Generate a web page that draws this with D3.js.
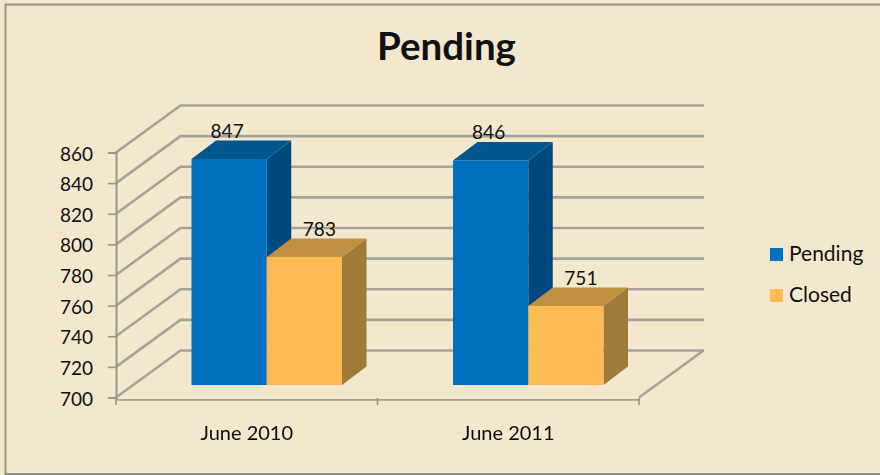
<!DOCTYPE html>
<html><head><meta charset="utf-8">
<script src="https://cdn.jsdelivr.net/npm/d3@7"></script>
<style>html,body{margin:0;padding:0;background:#f3e8cd}svg{display:block}text{font-family:Lato,"Noto Sans",sans-serif;fill:#111}</style>
</head><body><svg id="c" width="880" height="475"></svg>
<script>
const categories = ["June 2010", "June 2011"];
const seriesNames = ["Pending", "Closed"];
const pendingValues = [847, 846];
const closedValues = [783, 751];
const yTicks = [700, 720, 740, 760, 780, 800, 820, 840, 860];
const titleText = "Pending";

const frontColors = {Pending:"#0070be", Closed:"#feba55"};
const topColors   = {Pending:"#00568f", Closed:"#bf9140"};
const sideColors  = {Pending:"#004a7f", Closed:"#a07a38"};
const labelDx = {Pending:-2, Closed:15};

const svg = d3.select("#c");
const defs = svg.append("defs");
const addBlur = (id,sd)=>defs.append("filter").attr("id",id).attr("filterUnits","userSpaceOnUse")
  .attr("x",0).attr("y",0).attr("width",880).attr("height",475)
  .append("feGaussianBlur").attr("stdDeviation",sd);
addBlur("soft",0.7);
addBlur("edge",0.4);
const g = svg.append("g");

g.append("rect").attr("width",880).attr("height",475).attr("fill","#f3e8cd");
g.append("path").attr("fill","none").attr("stroke","#8f8f8b").attr("stroke-width",1.8)
 .attr("d",d3.line()([[880,4.5],[5.5,4.5],[5.5,474],[880,474]]));

const y = d3.scaleLinear().domain([700,860]).range([397.5,152.5]);
const x = d3.scaleBand().domain(categories).range([116,639]);
const wallDx = 64.5, wallDy = -47;
const floorDx = 20, floorDy = -12.5;
const barDx = 24.5, barDy = -18.5;
const gridColor = "#a5a29a";

const grid = g.append("g").attr("filter","url(#soft)").attr("fill","none").attr("stroke",gridColor).attr("stroke-width",2.6);
yTicks.forEach(t=>{
  grid.append("path").attr("d",d3.line()([[116,y(t)],[116+wallDx,y(t)+wallDy],[704,y(t)+wallDy]]));
});
grid.append("path").attr("d",d3.line()([[639,y(700)],[639+wallDx,y(700)+wallDy]]));

const axisLeft = d3.axisLeft(y).tickValues(yTicks).tickSize(8).tickPadding(15).tickFormat(d3.format("d"));
const ay = g.append("g").attr("transform","translate(116,0)").call(axisLeft);
ay.select(".domain").attr("stroke","#97958f").attr("stroke-width",2);
ay.selectAll(".tick line").attr("stroke","#97958f").attr("stroke-width",1.6);
ay.selectAll("text").attr("font-size",19).attr("dy","0.4em");

const axisBottom = d3.axisBottom(x).tickSize(0).tickPadding(27);
const ax = g.append("g").attr("transform","translate(0,399)").attr("filter","url(#edge)").call(axisBottom);
ax.select(".domain").attr("stroke",gridColor).attr("stroke-width",2.4);
ax.selectAll("text").attr("font-size",20);
const tickPos = [x.range()[0], x.range()[0]+x.step(), x.range()[1]];
g.append("g").selectAll("line").data(tickPos).join("line")
 .attr("x1",d=>d).attr("x2",d=>d).attr("y1",398).attr("y2",405)
 .attr("stroke","#97958f").attr("stroke-width",1.6);

const sub = d3.scaleBand().domain(seriesNames).range([-75.25,75.25]);
const valuesOf = {Pending:pendingValues, Closed:closedValues};
const rows = categories.flatMap((c,i)=>seriesNames.map(s=>({c,s,v:valuesOf[s][i]})));

const bars = g.append("g").selectAll("g").data(rows).join("g");
bars.each(function(d){
  const b = d3.select(this);
  const x0 = x(d.c)+x.bandwidth()/2+floorDx+sub(d.s), w = sub.bandwidth();
  const yt = y(d.v)+floorDy-1, yb = y(700)+floorDy;
  const poly = pts=>d3.line()(pts)+"Z";
  const s = b.append("g").attr("filter","url(#edge)");
  s.append("path").attr("fill",sideColors[d.s]).attr("d",poly([[x0+w,yt],[x0+w+barDx,yt+barDy],[x0+w+barDx,yb+barDy],[x0+w,yb]]));
  s.append("path").attr("fill",topColors[d.s]).attr("d",poly([[x0,yt],[x0+barDx,yt+barDy],[x0+w+barDx,yt+barDy],[x0+w,yt]]));
  s.append("rect").attr("x",x0).attr("y",yt).attr("width",w).attr("height",yb-yt).attr("fill",frontColors[d.s]);
  b.append("text").attr("x",x0+w/2+labelDx[d.s]).attr("y",yt-21).attr("text-anchor","middle").attr("font-size",19).text(d.v);
});

g.append("text").attr("x",446.5).attr("y",60).attr("text-anchor","middle")
 .attr("font-size",38.5).attr("font-weight",700).text(titleText);

const lg = g.append("g").selectAll("g").data(seriesNames).join("g")
 .attr("transform",(d,i)=>`translate(770,${248+i*41})`);
lg.append("rect").attr("width",13).attr("height",13).attr("fill",d=>frontColors[d]);
lg.append("text").attr("x",19).attr("y",13).attr("font-size",21).text(d=>d);
</script></body></html>
